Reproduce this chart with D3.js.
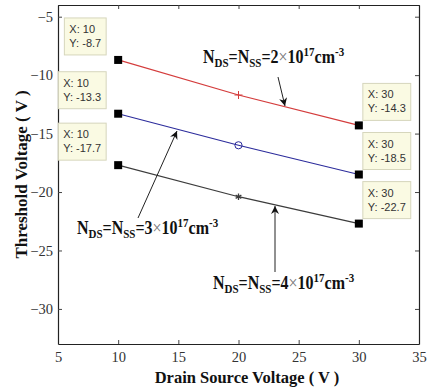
<!DOCTYPE html>
<html>
<head>
<meta charset="utf-8">
<script src="https://cdn.jsdelivr.net/npm/d3@7"></script>
<style>
body { margin: 0; background: #fff; }
svg { display: block; }
</style>
</head>
<body>
<div id="chart"></div>
<script>
// values
var drainVoltage = [10, 20, 30];
var vt2e17 = [-8.7, -11.7, -14.3];
var vt3e17 = [-13.3, -16.0, -18.5];
var vt4e17 = [-17.7, -20.4, -22.7];
var xTicks = [5, 10, 15, 20, 25, 30, 35];
var yTicks = [-30, -25, -20, -15, -10, -5];

var width = 427, height = 389;
var plotL = 58, plotR = 419, plotT = 5, plotB = 344;

var x = d3.scaleLinear().domain([5, 35]).range([plotL, plotR]);
var y = d3.scaleLinear().domain([-33, -4]).range([plotB, plotT]);

var svg = d3.select('#chart').append('svg')
    .attr('width', width)
    .attr('height', height);

var defs = svg.append('defs');
defs.append('marker')
    .attr('id', 'arrow')
    .attr('viewBox', '0 0 10 10')
    .attr('refX', 10).attr('refY', 5)
    .attr('markerWidth', 12).attr('markerHeight', 8)
    .attr('markerUnits', 'userSpaceOnUse')
    .attr('orient', 'auto')
    .append('path')
    .attr('d', 'M0,0 L10,5 L0,10 L3,5 Z')
    .attr('fill', '#111');

// axes, box style with inward ticks on all four sides
var serif = '"Liberation Serif", serif';
var gx = svg.append('g').attr('transform', 'translate(0,' + plotB + ')')
    .call(d3.axisBottom(x).tickValues(xTicks).tickSizeInner(-4).tickSizeOuter(0).tickPadding(8));
var gxt = svg.append('g').attr('transform', 'translate(0,' + plotT + ')')
    .call(d3.axisTop(x).tickValues(xTicks).tickSizeInner(-4).tickSizeOuter(0).tickFormat(''));
var gy = svg.append('g').attr('transform', 'translate(' + plotL + ',0)')
    .call(d3.axisLeft(y).tickValues(yTicks).tickSizeInner(-4).tickSizeOuter(0).tickPadding(5));
var gyr = svg.append('g').attr('transform', 'translate(' + plotR + ',0)')
    .call(d3.axisRight(y).tickValues(yTicks).tickSizeInner(-4).tickSizeOuter(0).tickFormat(''));

[gx, gxt, gy, gyr].forEach(function (g) {
    g.select('.domain').attr('stroke', '#222').attr('stroke-width', 1.2);
    g.selectAll('.tick line').attr('stroke', '#444');
    g.selectAll('.tick text').attr('fill', '#333')
        .style('font-family', serif).style('font-size', '14.5px');
});

// axis labels
svg.append('text')
    .attr('x', 247).attr('y', 383)
    .attr('text-anchor', 'middle')
    .style('font-family', serif).style('font-size', '16.5px').style('font-weight', 'bold')
    .attr('fill', '#111')
    .text('Drain Source Voltage ( V )');
svg.append('text')
    .attr('transform', 'translate(27,' + (plotT + plotB) / 2 + ') rotate(-90)')
    .attr('text-anchor', 'middle')
    .style('font-family', serif).style('font-size', '17px').style('font-weight', 'bold')
    .attr('fill', '#111')
    .text('Threshold Voltage ( V )');

// series
var series = [
    { values: vt2e17, color: '#d43c3c', mark: 'plus' },
    { values: vt3e17, color: '#2c2c9c', mark: 'circle' },
    { values: vt4e17, color: '#3c3c3c', mark: 'star' }
];

var line = d3.line()
    .x(function (d, i) { return x(drainVoltage[i]); })
    .y(function (d) { return y(d); });

series.forEach(function (s) {
    svg.append('path')
        .datum(s.values)
        .attr('fill', 'none')
        .attr('stroke', s.color)
        .attr('stroke-width', 1.2)
        .attr('d', line);

    var mx = x(drainVoltage[1]), my = y(s.values[1]);
    if (s.mark === 'plus') {
        svg.append('path').attr('d', 'M' + (mx - 4) + ',' + my + 'h8M' + mx + ',' + (my - 4) + 'v8')
            .attr('stroke', s.color).attr('stroke-width', 1);
    } else if (s.mark === 'circle') {
        svg.append('circle').attr('cx', mx).attr('cy', my).attr('r', 3.6)
            .attr('fill', 'none').attr('stroke', s.color).attr('stroke-width', 1);
    } else {
        svg.append('path').attr('d', d3.symbol(d3.symbolAsterisk, 30)())
            .attr('transform', 'translate(' + mx + ',' + my + ')')
            .attr('stroke', s.color).attr('stroke-width', 1.3).attr('fill', 'none');
    }
});

// data tips at both ends of every series
series.forEach(function (s) {
    [0, 2].forEach(function (i) {
        var px = x(drainVoltage[i]), py = y(s.values[i]);
        var g = svg.append('g');
        var t = g.append('text')
            .style('font-family', '"Liberation Sans", Arial, sans-serif')
            .style('font-size', '11px')
            .attr('fill', '#333');
        t.append('tspan').attr('x', 0).attr('y', 0).text('X: ' + drainVoltage[i]);
        t.append('tspan').attr('x', 0).attr('y', 14).text('Y: ' + s.values[i].toFixed(1));
        var w = t.node().getBBox().width + 10, h = 37;
        var bx = i === 0 ? px - 12 - w : px + 4;
        var by = py - 5 - h;
        g.insert('rect', 'text')
            .attr('x', bx).attr('y', by).attr('width', w).attr('height', h)
            .attr('fill', '#fafae3').attr('stroke', '#d6d6bc').attr('stroke-width', 1);
        t.attr('transform', 'translate(' + (bx + 5) + ',' + (by + 15) + ')');
        svg.append('rect')
            .attr('x', px - 4).attr('y', py - 4).attr('width', 8).attr('height', 8)
            .attr('fill', '#000');
    });
});

// annotations (slightly tall, like the original)
function annotate(tx, ty, n) {
    var t = svg.append('text')
        .attr('transform', 'translate(' + tx + ',' + ty + ') scale(1,1.2)')
        .style('font-family', serif).style('font-size', '16px').style('font-weight', 'bold')
        .attr('fill', '#111');
    t.append('tspan').text('N');
    t.append('tspan').attr('dy', 3).style('font-size', '11px').text('DS');
    t.append('tspan').attr('dy', -3).text('=N');
    t.append('tspan').attr('dy', 3).style('font-size', '11px').text('SS');
    t.append('tspan').attr('dy', -3).text('=' + n);
    t.append('tspan').style('font-weight', 'normal').attr('fill', '#777').text('\u00d7');
    t.append('tspan').text('10');
    t.append('tspan').attr('dy', -6).style('font-size', '11px').text('17');
    t.append('tspan').attr('dy', 6).text('cm');
    t.append('tspan').attr('dy', -6).style('font-size', '11px').text('-3');
}
function arrow(x1, y1, x2, y2) {
    svg.append('line')
        .attr('x1', x1).attr('y1', y1).attr('x2', x2).attr('y2', y2)
        .attr('stroke', '#222').attr('stroke-width', 1)
        .attr('marker-end', 'url(#arrow)');
}

annotate(203, 63, '2');
arrow(278, 77, 285, 106);
annotate(77, 234, '3');
arrow(138, 218, 177, 131);
annotate(213, 289, '4');
arrow(275, 272, 275, 206);
</script>
</body>
</html>
